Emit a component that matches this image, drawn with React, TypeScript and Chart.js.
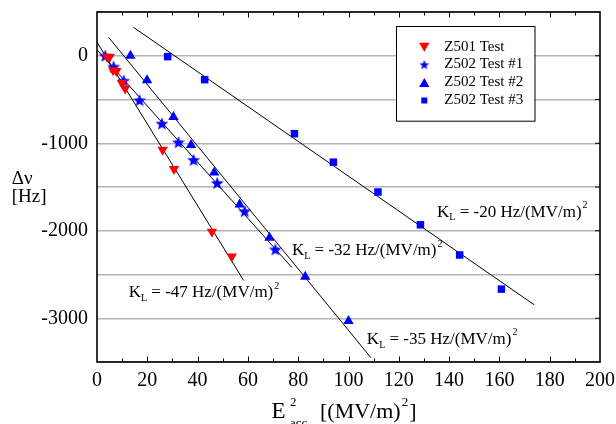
import React, { useEffect, useRef } from "react";
import { Chart, registerables } from "chart.js";

Chart.register(...registerables);

// ---------- data ----------
const xTickValues = [0, 20, 40, 60, 80, 100, 120, 140, 160, 180, 200];
const yTickValues = [0, -1000, -2000, -3000];

const legendLabels = ["Z501 Test", "Z502 Test #1", "Z502 Test #2", "Z502 Test #3"];

const z501X = [4.0, 5.0, 6.4, 7.7, 9.9, 11.2, 26.1, 30.6, 45.7, 53.6];
const z501Y = [-10, -15, -165, -175, -310, -375, -1075, -1295, -2010, -2295];

const t1X = [3.3, 6.6, 10.6, 16.9, 25.8, 32.4, 38.4, 47.8, 58.7, 70.9];
const t1Y = [0, -125, -285, -508, -775, -989, -1190, -1455, -1777, -2213];

const t2X = [13.3, 19.9, 30.4, 37.4, 46.6, 56.7, 68.6, 82.8, 100.0];
const t2Y = [0, -280, -700, -1020, -1335, -1700, -2080, -2525, -3030];

const t3X = [28.1, 42.8, 78.5, 94.0, 111.7, 128.6, 144.2, 160.8];
const t3Y = [-10, -273, -891, -1216, -1557, -1932, -2277, -2667];

// fitted lines (end points)
const fit47X = [0, 58.3];
const fit47Y = [155, -2568];
const fit32X = [0, 77.5];
const fit32Y = [68, -2420];
const fit35X = [4.6, 108.9];
const fit35Y = [211, -3450];
const fit20X = [14.5, 173.9];
const fit20Y = [325, -2847];

const kValues = ["-47", "-32", "-35", "-20"];
// label anchor positions in data units (left of "K", baseline)
const kAnchorX = [12.6, 77.5, 107.3, 135.2];
const kAnchorY = [-2758, -2281, -3292, -1838];

// ---------- styling ----------
const FONT = '"Liberation Serif", "Times New Roman", Times, serif';
const RED = "#ff0000";
const BLUE = "#0000ff";

const pts = (xs: number[], ys: number[]) => xs.map((x, i) => ({ x, y: ys[i] }));

function makeStar(size: number, outer: number, inner: number, color: string) {
  const c = document.createElement("canvas");
  c.width = size;
  c.height = size;
  const ctx = c.getContext("2d")!;
  ctx.fillStyle = color;
  ctx.beginPath();
  for (let i = 0; i < 10; i++) {
    const r = i % 2 === 0 ? outer : inner;
    const a = -Math.PI / 2 + (i * Math.PI) / 5;
    const px = size / 2 + r * Math.cos(a);
    const py = size / 2 + 0.6 + r * Math.sin(a);
    if (i === 0) ctx.moveTo(px, py);
    else ctx.lineTo(px, py);
  }
  ctx.closePath();
  ctx.fill();
  return c;
}

type Part = { t: string; m?: "sub" | "sup" };

function drawRich(ctx: CanvasRenderingContext2D, x: number, y: number, parts: Part[], size: number, small: number) {
  let cx = x;
  ctx.textAlign = "left";
  ctx.textBaseline = "alphabetic";
  ctx.fillStyle = "#000";
  for (const p of parts) {
    if (p.m === "sub") {
      ctx.font = `${small}px ${FONT}`;
      ctx.fillText(p.t, cx, y + size * 0.22);
      cx += ctx.measureText(p.t).width;
    } else if (p.m === "sup") {
      ctx.font = `${small}px ${FONT}`;
      ctx.fillText(p.t, cx + 1, y - size * 0.5);
      cx += ctx.measureText(p.t).width + 1;
    } else {
      ctx.font = `${size}px ${FONT}`;
      ctx.fillText(p.t, cx, y);
      cx += ctx.measureText(p.t).width;
    }
  }
}

function drawTri(ctx: CanvasRenderingContext2D, x: number, y: number, r: number, down: boolean, color: string) {
  const s = down ? -1 : 1;
  ctx.fillStyle = color;
  ctx.beginPath();
  ctx.moveTo(x, y - s * r);
  ctx.lineTo(x + r * Math.sin((2 * Math.PI) / 3), y + s * r * 0.5);
  ctx.lineTo(x - r * Math.sin((2 * Math.PI) / 3), y + s * r * 0.5);
  ctx.closePath();
  ctx.fill();
}

export default function App() {
  const ref = useRef<HTMLCanvasElement | null>(null);

  useEffect(() => {
    const canvas = ref.current;
    if (!canvas) return;
    const star = makeStar(16, 6.8, 2.9, BLUE);
    const legendStar = makeStar(12, 5.2, 2.2, BLUE);

    const overlay = {
      id: "overlay",
      afterDraw(chart: any) {
        const { ctx, chartArea: a, scales } = chart;
        const xs = scales.x;
        const ys = scales.y;
        ctx.save();
        const seg = (x1: number, y1: number, x2: number, y2: number) => {
          ctx.beginPath();
          ctx.moveTo(x1, y1);
          ctx.lineTo(x2, y2);
          ctx.stroke();
        };
        // ticks
        ctx.strokeStyle = "#000";
        ctx.lineWidth = 1;
        for (let v = 10; v < 200; v += 10) {
          const px = Math.round(xs.getPixelForValue(v)) + 0.5;
          const len = v % 20 === 0 ? 5.5 : 3.5;
          seg(px, a.top, px, a.top + len);
          seg(px, a.bottom, px, a.bottom - len);
        }
        for (let v = -3000; v <= 0; v += 500) {
          const py = ys.getPixelForValue(v);
          seg(a.right, py, a.right - 5, py);
        }
        // frame
        ctx.lineWidth = 1.6;
        ctx.strokeRect(a.left, a.top, a.right - a.left, a.bottom - a.top);

        // legend
        const lx = 396, ly = 26, lw = 138.5, lh = 94.7;
        ctx.fillStyle = "#fff";
        ctx.fillRect(lx, ly, lw, lh);
        ctx.lineWidth = 1;
        ctx.strokeStyle = "#000";
        ctx.strokeRect(lx + 0.5, ly + 0.5, lw, lh);
        const rows = [46.7, 64.5, 82.5, 100.5];
        const mx = 424.3;
        drawTri(ctx, mx, rows[0] - 1, 6, true, RED);
        ctx.drawImage(legendStar, mx - 6, rows[1] - 6);
        drawTri(ctx, mx, rows[2] + 1.5, 6, false, BLUE);
        ctx.fillStyle = BLUE;
        ctx.fillRect(mx - 3, rows[3] - 3, 6, 6);
        ctx.fillStyle = "#000";
        ctx.font = `15px ${FONT}`;
        ctx.textAlign = "left";
        ctx.textBaseline = "middle";
        legendLabels.forEach((l, i) => ctx.fillText(l, 444.3, rows[i]));

        // K_L annotations
        kValues.forEach((k, i) => {
          const px = xs.getPixelForValue(kAnchorX[i]);
          const py = ys.getPixelForValue(kAnchorY[i]);
          drawRich(
            ctx,
            px,
            py,
            [
              { t: "K" },
              { t: "L", m: "sub" },
              { t: ` = ${k} Hz/(MV/m)` },
              { t: "2", m: "sup" },
            ],
            17,
            10
          );
        });

        // y title
        ctx.fillStyle = "#000";
        ctx.font = `19px ${FONT}`;
        ctx.textAlign = "left";
        ctx.textBaseline = "alphabetic";
        ctx.fillText("\u0394\u03bd", 11.7, 183.5);
        ctx.fillText("[Hz]", 11.7, 201.6);

        // x title
        ctx.font = `23px ${FONT}`;
        ctx.fillText("E", 271.5, 418);
        ctx.font = `13px ${FONT}`;
        ctx.fillText("2", 290, 406);
        ctx.fillText("acc", 290, 427);
        ctx.font = `22px ${FONT}`;
        ctx.fillText("[(MV/m)", 320, 418);
        const w = ctx.measureText("[(MV/m)").width;
        ctx.font = `13px ${FONT}`;
        ctx.fillText("2", 320 + w + 1, 406);
        const w2 = ctx.measureText("2").width;
        ctx.font = `22px ${FONT}`;
        ctx.fillText("]", 320 + w + w2 + 2, 418);
        ctx.restore();
      },
    };

    const lineDs = (xs: number[], ys: number[]) => ({
      data: pts(xs, ys),
      showLine: true,
      borderColor: "#000",
      borderWidth: 1,
      pointRadius: 0,
      fill: false,
    });

    const chart = new Chart(canvas, {
      type: "scatter",
      data: {
        datasets: [
          {
            label: legendLabels[0],
            data: pts(z501X, z501Y),
            pointStyle: "triangle",
            rotation: 180,
            pointRadius: 6,
            backgroundColor: RED,
            borderColor: RED,
            borderWidth: 0,
          },
          {
            label: legendLabels[1],
            data: pts(t1X, t1Y),
            pointStyle: star as any,
            pointRadius: 6,
            backgroundColor: BLUE,
            borderColor: BLUE,
          },
          {
            label: legendLabels[2],
            data: pts(t2X, t2Y),
            pointStyle: "triangle",
            pointRadius: 6,
            backgroundColor: BLUE,
            borderColor: BLUE,
            borderWidth: 0,
          },
          {
            label: legendLabels[3],
            data: pts(t3X, t3Y),
            pointStyle: "rect",
            pointRadius: 5.3,
            backgroundColor: BLUE,
            borderColor: BLUE,
            borderWidth: 0,
          },
          lineDs(fit47X, fit47Y),
          lineDs(fit32X, fit32Y),
          lineDs(fit35X, fit35Y),
          lineDs(fit20X, fit20Y),
        ] as any,
      },
      options: {
        animation: false,
        responsive: false,
        devicePixelRatio: 1,
        events: [],
        layout: { padding: { left: 0, right: 16, top: 12, bottom: 0 } },
        plugins: {
          legend: { display: false },
          tooltip: { enabled: false },
        },
        scales: {
          x: {
            type: "linear",
            min: 0,
            max: 200,
            afterFit: (s: any) => {
              s.height = 62;
              s.paddingLeft = 0;
              s.paddingRight = 0;
            },
            afterBuildTicks: (s: any) => {
              s.ticks = xTickValues.map((v) => ({ value: v }));
            },
            grid: { display: false, drawTicks: false },
            border: { display: false },
            ticks: {
              color: "#000",
              padding: 7,
              maxRotation: 0,
              font: { family: FONT, size: 20 },
            },
          },
          y: {
            type: "linear",
            min: -3500,
            max: 500,
            afterFit: (s: any) => {
              s.width = 97;
              s.paddingTop = 0;
              s.paddingBottom = 0;
            },
            ticks: {
              stepSize: 500,
              color: "#000",
              padding: 9,
              font: { family: FONT, size: 20 },
              callback: (v: any) => (yTickValues.includes(Number(v)) ? String(v) : ""),
            },
            grid: {
              drawTicks: false,
              color: "#b4b4b4",
              lineWidth: 1.5,
            },
            border: { display: false },
          },
        },
      } as any,
      plugins: [overlay],
    });
    return () => chart.destroy();
  }, []);

  return (
    <div style={{ position: "fixed", left: 0, top: 0, width: 616, height: 424, background: "#fff" }}>
      <canvas ref={ref} width={616} height={424} style={{ display: "block" }} />
    </div>
  );
}
